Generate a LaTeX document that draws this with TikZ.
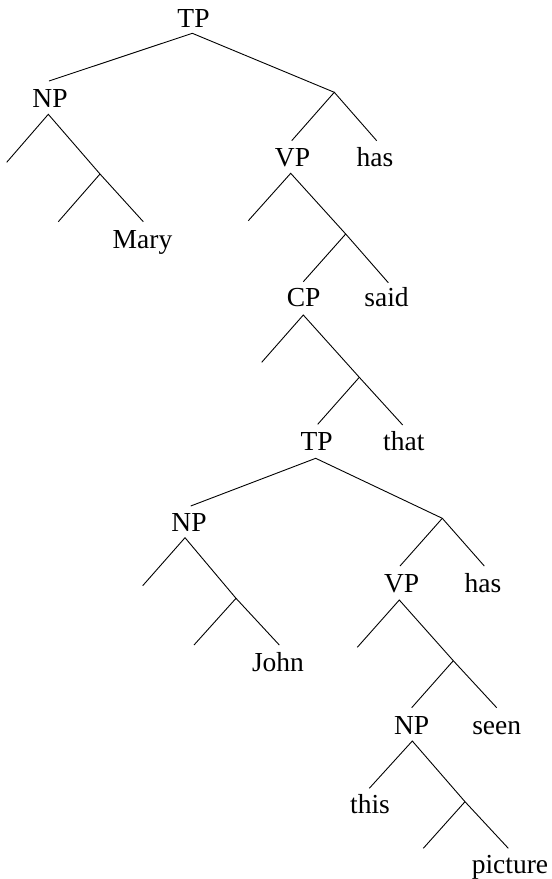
\documentclass[tikz,border=0pt]{standalone}
\usepackage{fontspec}
\setmainfont{Liberation Serif}
\begin{document}
\begin{tikzpicture}[x=1pt,y=-1pt,
  lbl/.style={anchor=base,inner sep=0pt,font=\fontsize{27.5}{30}\selectfont},
  br/.style={line width=0.9pt}]
\useasboundingbox (0,0) rectangle (552,879);
% labels
\node[lbl] (tp1) at (193.5,27) {TP};
\node[lbl] (np1) at (50,107) {NP};
\node[lbl] (mary) at (142.5,248) {Mary};
\node[lbl] (vp1) at (292.5,166) {VP};
\node[lbl] (has1) at (375,166) {has};
\node[lbl] (cp) at (303.7,306.5) {CP};
\node[lbl] (said) at (386.5,306.5) {said};
\node[lbl] (tp2) at (316.7,450) {TP};
\node[lbl] (that) at (403.8,450) {that};
\node[lbl] (np2) at (189,531) {NP};
\node[lbl] (vp2) at (401.7,592) {VP};
\node[lbl] (has2) at (483,592) {has};
\node[lbl] (john) at (278,671) {John};
\node[lbl] (np3) at (411.7,734) {NP};
\node[lbl] (seen) at (496.7,734) {seen};
\node[lbl] (this) at (370,813) {this};
\node[lbl] (picture) at (510,873) {picture};
% coordinates
\coordinate (tp1b) at (192.3,33.3);
\coordinate (np1t) at (49,81);
\coordinate (j1) at (334.3,92.3);
\coordinate (vp1t) at (291.7,140.7);
\coordinate (has1t) at (376.7,140.7);
\coordinate (np1b) at (48.3,114.3);
\coordinate (e1) at (6.7,162.3);
\coordinate (j2) at (100,174);
\coordinate (e2) at (58.3,221.7);
\coordinate (maryt) at (143.3,221.7);
\coordinate (vp1b) at (290.7,173.3);
\coordinate (e3) at (248.3,220.7);
\coordinate (j3) at (345.7,234);
\coordinate (cpt) at (303.3,281.7);
\coordinate (saidt) at (388.3,282.7);
\coordinate (cpb) at (303.3,315);
\coordinate (e4) at (261.7,362.3);
\coordinate (j4) at (359.3,377.3);
\coordinate (tp2t) at (317.7,424.3);
\coordinate (thatt) at (402.7,425);
\coordinate (tp2b) at (315.7,458.3);
\coordinate (np2t) at (190.7,506);
\coordinate (j5) at (442.3,518.3);
\coordinate (vp2t) at (400,566);
\coordinate (has2t) at (484.3,566);
\coordinate (np2b) at (185,537.7);
\coordinate (e5) at (142.7,585.7);
\coordinate (j6) at (236,598.3);
\coordinate (e6) at (194,645);
\coordinate (johnt) at (279.3,645);
\coordinate (vp2b) at (399.3,600);
\coordinate (e7) at (357.3,647.3);
\coordinate (j7) at (453.3,660.7);
\coordinate (np3t) at (411.7,707.7);
\coordinate (seent) at (496.7,707.7);
\coordinate (np3b) at (412.3,741);
\coordinate (thist) at (369.3,788.3);
\coordinate (j8) at (465,801.7);
\coordinate (e8) at (423.3,848.3);
\coordinate (picturet) at (508.3,848.3);
% branches
\draw[br] (np1t) -- (tp1b) -- (j1);
\draw[br] (vp1t) -- (j1) -- (has1t);
\draw[br] (e1) -- (np1b) -- (j2) -- (maryt);
\draw[br] (e2) -- (j2);
\draw[br] (e3) -- (vp1b) -- (j3) -- (saidt);
\draw[br] (cpt) -- (j3);
\draw[br] (e4) -- (cpb) -- (j4) -- (thatt);
\draw[br] (tp2t) -- (j4);
\draw[br] (np2t) -- (tp2b) -- (j5) -- (has2t);
\draw[br] (vp2t) -- (j5);
\draw[br] (e5) -- (np2b) -- (j6) -- (johnt);
\draw[br] (e6) -- (j6);
\draw[br] (e7) -- (vp2b) -- (j7) -- (seent);
\draw[br] (np3t) -- (j7);
\draw[br] (thist) -- (np3b) -- (j8) -- (picturet);
\draw[br] (e8) -- (j8);
\end{tikzpicture}
\end{document}
